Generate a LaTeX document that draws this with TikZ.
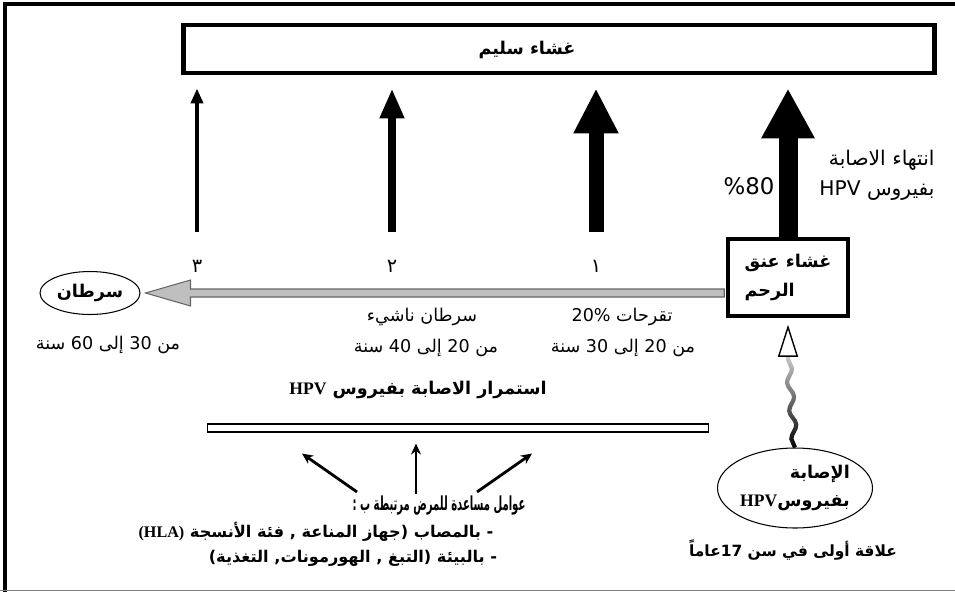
\documentclass[tikz,border=0pt]{standalone}
\usepackage{fontspec}
\usetikzlibrary{arrows.meta,decorations.pathmorphing,shapes.geometric,fadings,calc,positioning}
\TeXXeTstate=1
\newfontfamily\arabicfont[Script=Arabic]{DejaVu Sans}
\newfontfamily\romanfont{Liberation Serif}
\newcommand{\rl}[1]{\beginR #1\endR}
\newcommand{\lr}[1]{\beginL{#1}\endL{}}

\tikzfading[name=wave fade, top color=transparent!80, bottom color=transparent!0]

\tikzset{main box/.style={rectangle,draw,line width=2.8pt,minimum width=15.04cm,minimum height=0.96cm},
         cervix box/.style={rectangle,draw,line width=2pt,minimum width=2.4cm,minimum height=1.54cm},
         round node/.style={ellipse,draw,line width=0.6pt},
         plain text/.style={inner sep=0pt,font=\arabicfont\fontsize{10}{17}\selectfont},
         bold text/.style={inner sep=0pt,font=\arabicfont\bfseries\fontsize{10}{16}\selectfont},
         exit arrow/.style n args={3}{line width=#1,-{Triangle[width=#2,length=#3]}},
         factor arrow/.style={line width=1.6pt,-{Stealth[length=0.22cm,width=0.2cm]}},
         progress/.style={fill=black!25,draw=black!60,line width=0.6pt},
         wave/.style={decorate,decoration={snake,amplitude=1.7pt,segment length=16pt},line width=2.4pt,path fading=wave fade},
}

\begin{document}
\begin{tikzpicture}[x=0.02cm,y=-0.02cm]
\useasboundingbox (0,0) rectangle (955,592);
% frame
\draw[line width=2.3pt] (5,592) -- (5,4) -- (955,4);
\draw[gray,line width=0.8pt] (0,590.5) -- (955,590.5);

\node[main box] (healthy) at (559,49) {};
\node[bold text] (healthytxt) at (527,50) {\rl{غشاء سليم}};

\node[plain text,font=\arabicfont\fontsize{11}{13}\selectfont] (n3) at (197,266) {\rl{٣}};
\node[plain text,font=\arabicfont\fontsize{11}{13}\selectfont] (n2) at (392,266) {\rl{٢}};
\node[plain text,font=\arabicfont\fontsize{11}{13}\selectfont] (n1) at (596,266) {\rl{١}};
\coordinate (b3) at (197,232);
\coordinate (b2) at (392,232);
\coordinate (b1) at (596,232);

\node[cervix box,bold text,align=left] (cervix) at (788,277.5) {\rl{غشاء عنق}\\\rl{الرحم}};

\draw[exit arrow={0.08cm}{0.24cm}{0.3cm},shorten >=0.26cm] (b3) -- (b3 |- healthy.south);
\draw[exit arrow={0.16cm}{0.46cm}{0.6cm},shorten >=0.26cm] (b2) -- (b2 |- healthy.south);
\draw[exit arrow={0.3cm}{0.84cm}{0.9cm},shorten >=0.26cm] (b1) -- (b1 |- healthy.south);
\draw[exit arrow={0.38cm}{1cm}{1cm},shorten >=0.26cm] (cervix.north) -- (cervix.north |- healthy.south);

\node[plain text,font=\arabicfont\fontsize{13}{15}\selectfont] (pct) at (749,186) {\%80};
\node[plain text,align=right,font=\arabicfont\fontsize{11.5}{17}\selectfont] (exit) at (877,175) {\rl{انتهاء الاصابة}\\\rl{بفيروس \lr{HPV}}};

\node[bold text,round node,minimum width=2cm,minimum height=0.86cm] (cancer) at (90,293) {\rl{سرطان}};
\coordinate (gs) at ($(cervix.west |- cancer.east)+(-2,0)$);
\coordinate (ge) at ($(cancer.east)+(5,0)$);
\filldraw[progress] ($(gs)+(0,-4)$) -- ($(ge)+(45,-4)$) -- ($(ge)+(45,-13)$) -- (ge)
    -- ($(ge)+(45,13)$) -- ($(ge)+(45,4)$) -- ($(gs)+(0,4)$) -- cycle;

\node[plain text] (cancerage) at (108,345) {\rl{من 30 إلى 60 سنة}};
\node[plain text] (early) at (422,317) {\rl{سرطان ناشيء}};
\node[plain text] (earlyage) at (426,348) {\rl{من 20 إلى 40 سنة}};
\node[plain text] (ulcer) at (622,317) {\rl{تقرحات 20\%}};
\node[plain text] (ulcerage) at (623,348) {\rl{من 20 إلى 30 سنة}};
\node[bold text] (persist) at (418,390) {\rl{استمرار الاصابة بفيروس \lr{\romanfont HPV}}};

\node[draw,line width=0.6pt,minimum width=10.04cm,minimum height=0.16cm,inner sep=0pt] (bar) at (458,428) {};

\node[bold text,font=\arabicfont\bfseries\fontsize{11}{16}\selectfont] (f1) at (439,506) {\scalebox{0.52}[1]{\rl{عوامل مساعدة للمرض مرتبطة ب :}}};
\node[bold text,font=\arabicfont\bfseries\fontsize{9.2}{16}\selectfont] (f2) at (316,532) {\rl{- بالمصاب  (جهاز المناعة , فئة الأنسجة \lr{\romanfont (HLA)}}};
\node[bold text,font=\arabicfont\bfseries\fontsize{9.2}{16}\selectfont] (f3) at (353,558) {\rl{- بالبيئة (التبغ , الهورمونات, التغذية)}};
\draw[factor arrow] ($(f1.north)+(-82,-4)$) -- ($(bar.south)+(-156,21)$);
\draw[factor arrow] ($(f1.north)+(-23,-2)$) -- ($(bar.south)+(-42,11)$);
\draw[factor arrow] ($(f1.north)+(38,-4)$) -- ($(bar.south)+(74,21)$);

\node[bold text,round node,align=right,minimum width=2.74cm,minimum height=1.6cm] (hpv) at (795,488) {\rl{الإصابة}\\\rl{بفيروس\lr{\romanfont HPV}}};
\node[bold text,font=\arabicfont\bfseries\fontsize{8.8}{16}\selectfont] (first) at (793,550) {\rl{علاقة أولى في سن 17عاماً}};
\coordinate (wt) at ($(cervix.south)+(0,39)$);
\draw[wave] (hpv.north) -- (wt);
\draw[line width=0.8pt,-{Triangle[open,width=0.4cm,length=0.64cm]}] (wt) -- ($(cervix.south)+(0,7)$);
\end{tikzpicture}
\end{document}
